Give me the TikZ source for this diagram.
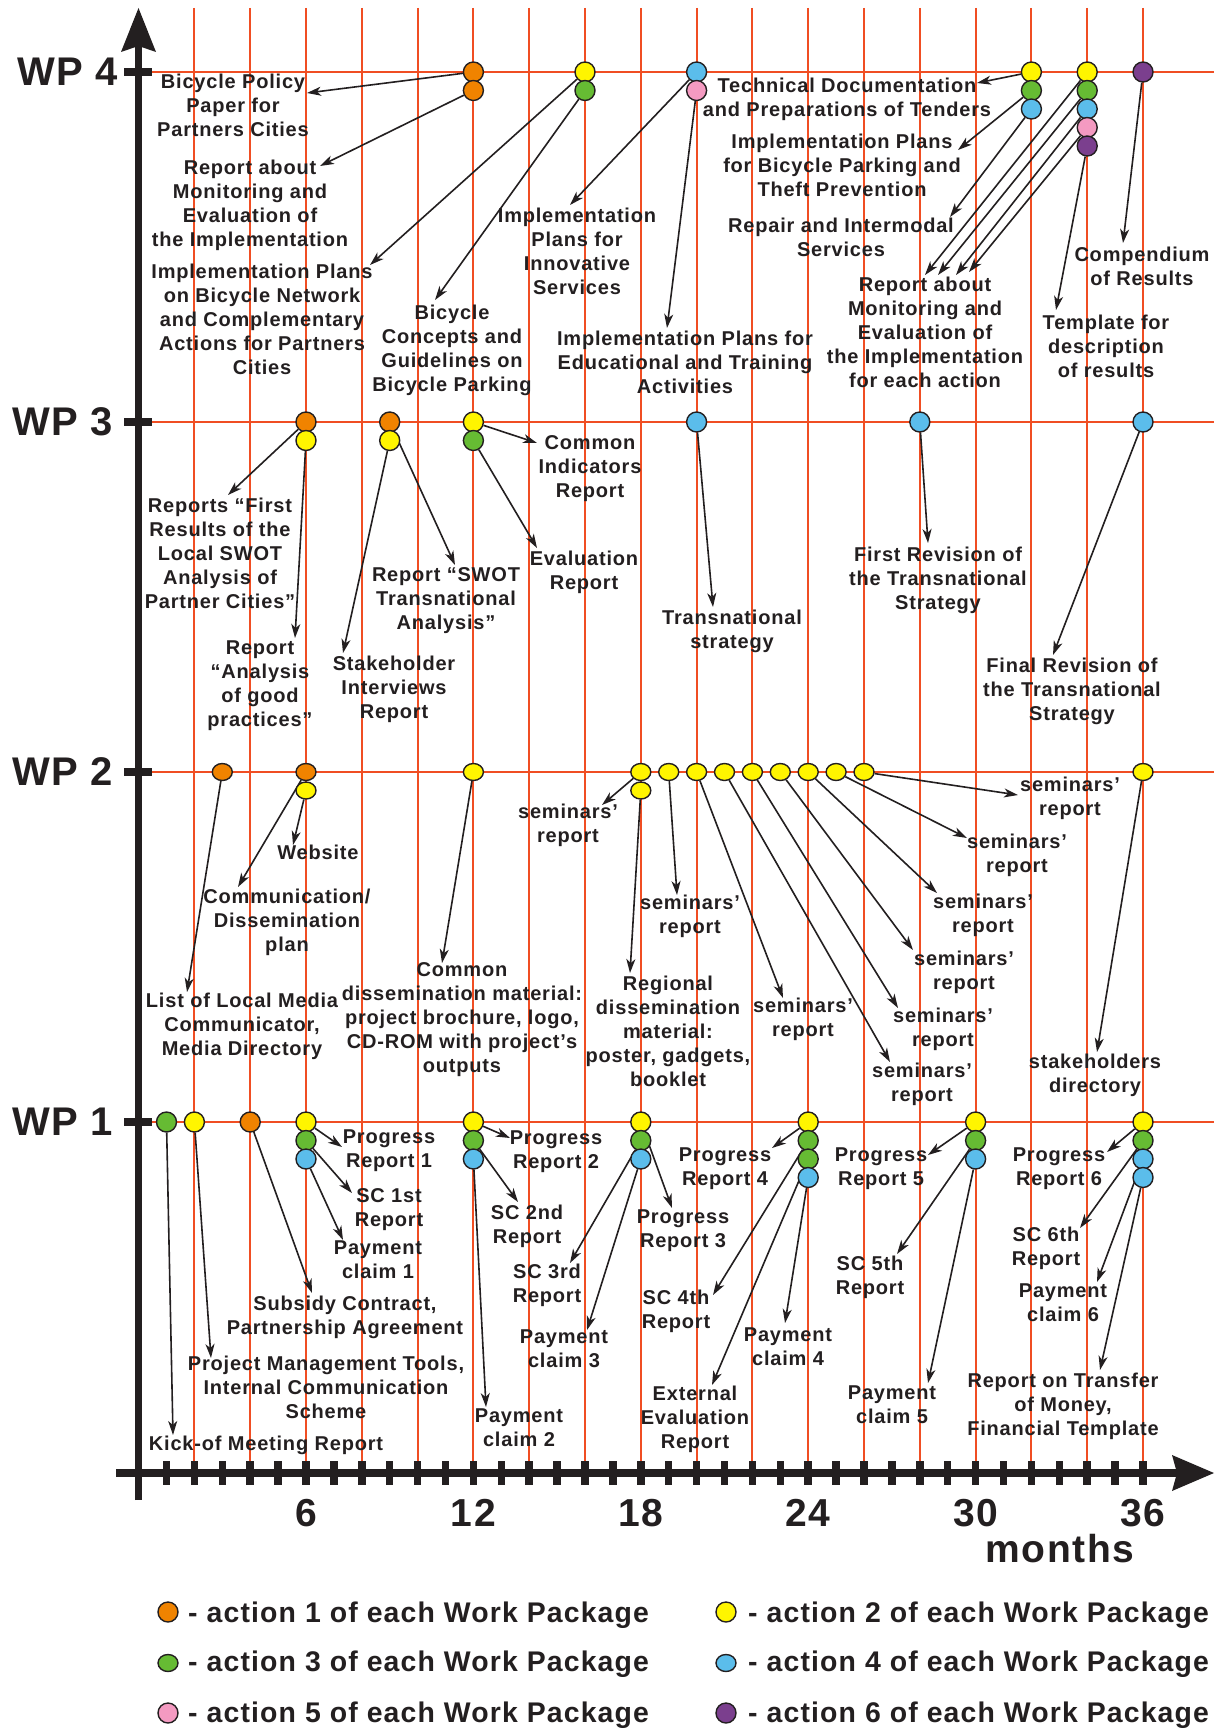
\documentclass[tikz,border=0pt]{standalone}
\usepackage{fontspec}
\setmainfont{Liberation Sans}[LetterSpace=4]
\usetikzlibrary{arrows.meta,shapes.geometric}
\definecolor{ink}{HTML}{231F20}
\definecolor{gridc}{HTML}{F04E23}
\definecolor{cO}{HTML}{F08300}
\definecolor{cY}{HTML}{FFF500}
\definecolor{cG}{HTML}{66BB33}
\definecolor{cB}{HTML}{5BBDEB}
\definecolor{cP}{HTML}{F49AC1}
\definecolor{cV}{HTML}{7B3F8E}
\pgfdeclarelayer{bg}
\pgfsetlayers{bg,main}
\newcommand\mkdot[4]{\node[dot,fill=#4] (#1) at (#2,#3) {};}
\newcommand\mkedot[4]{\node[edot,fill=#4] (#1) at (#2,#3) {};}
\newcommand\mkarr[4]{\coordinate (#2) at (#3,#4); \draw[arr] (#1) -- (#2);}
\newcommand\mklbl[4]{\node[lbl] (#1) at (#2,#3) {#4};}
\begin{document}
\begin{tikzpicture}[x=1pt,y=-1pt,
  dot/.style={circle,draw=ink,line width=1.4pt,minimum size=20pt,inner sep=0pt},
  edot/.style={ellipse,draw=ink,line width=1.4pt,minimum width=20pt,minimum height=17pt,inner sep=0pt},
  lbl/.style={font=\fontsize{20}{24}\selectfont\bfseries,text=ink,align=center,inner sep=0pt,execute at begin node=\strut,execute at end node=\strut},
  arr/.style={draw=ink,line width=1.6pt,-{Stealth[length=14pt,width=9pt,inset=4pt]}},
  gridl/.style={draw=gridc,line width=2pt},
  axisl/.style={draw=ink,line width=7.5pt},
  big/.style={font=\fontsize{40}{40}\selectfont\bfseries,text=ink,inner sep=0pt},
  leg/.style={font=\fontsize{28.4}{28.4}\selectfont\bfseries,text=ink,inner sep=0pt,anchor=base west}]
\begin{pgfonlayer}{bg}
\fill[white] (0,0) rectangle (1221,1731);
\foreach \m in {2,4,...,36} \draw[gridl] ({138.6+27.9*\m},8) -- ({138.6+27.9*\m},1462);
\foreach \y in {72,422,772,1122} \draw[gridl] (152,\y) -- (1214,\y);
\end{pgfonlayer}
\useasboundingbox (0,0) rectangle (1221,1731);
% axes
\draw[axisl] (138.5,1500) -- (138.5,44);
\fill[ink] (138.5,8) -- (156,52) -- (138.5,46) -- (121,52) -- cycle;
\draw[axisl] (116,1473) -- (1180,1473);
\fill[ink] (1214,1473) -- (1172,1455) -- (1177,1473) -- (1172,1491) -- cycle;
\foreach \m in {1,...,36} \draw[draw=ink,line width=7.5pt] ({138.6+27.9*\m},1461) -- ({138.6+27.9*\m},1485);
\foreach \y in {72,422,772,1122} \draw[draw=ink,line width=7.5pt] (124,\y) -- (152,\y);
% axis labels
\node[big,anchor=west] (wp4) at (17,72) {WP 4};
\node[big,anchor=west] (wp3) at (12,422) {WP 3};
\node[big,anchor=west] (wp2) at (12,772) {WP 2};
\node[big,anchor=west] (wp1) at (12,1122) {WP 1};
\node[big,anchor=base,font=\fontsize{39}{39}\selectfont\bfseries] (m6) at (306,1526) {6};
\node[big,anchor=base,font=\fontsize{39}{39}\selectfont\bfseries] (m12) at (473.4,1526) {12};
\node[big,anchor=base,font=\fontsize{39}{39}\selectfont\bfseries] (m18) at (640.8,1526) {18};
\node[big,anchor=base,font=\fontsize{39}{39}\selectfont\bfseries] (m24) at (808.2,1526) {24};
\node[big,anchor=base,font=\fontsize{39}{39}\selectfont\bfseries] (m30) at (975.6,1526) {30};
\node[big,anchor=base,font=\fontsize{39}{39}\selectfont\bfseries] (m36) at (1143,1526) {36};
\node[big,anchor=base,font=\fontsize{39}{39}\selectfont\bfseries] (months) at (1060,1562) {months};
% WP4 dots
\mkdot{a12o}{473.4}{72}{cO}
\mkdot{a12o2}{473.4}{90.5}{cO}
\mkdot{a16y}{585}{72}{cY}
\mkdot{a16g}{585}{90.5}{cG}
\mkdot{a20b}{696.6}{72}{cB}
\mkdot{a20p}{696.6}{90.5}{cP}
\mkdot{a32y}{1031.4}{72}{cY}
\mkdot{a32g}{1031.4}{90.5}{cG}
\mkdot{a32b}{1031.4}{109}{cB}
\mkdot{a34y}{1087.2}{72}{cY}
\mkdot{a34g}{1087.2}{90.5}{cG}
\mkdot{a34b}{1087.2}{109}{cB}
\mkdot{a34p}{1087.2}{127.5}{cP}
\mkdot{a34v}{1087.2}{146}{cV}
\mkdot{a36v}{1143}{72}{cV}
% WP3 dots
\mkdot{b6o}{306}{422}{cO}
\mkdot{b6y}{306}{440.5}{cY}
\mkdot{b9o}{389.7}{422}{cO}
\mkdot{b9y}{389.7}{440.5}{cY}
\mkdot{b12y}{473.4}{422}{cY}
\mkdot{b12g}{473.4}{440.5}{cG}
\mkdot{b20b}{696.6}{422}{cB}
\mkdot{b28b}{919.8}{422}{cB}
\mkdot{b36b}{1143}{422}{cB}
% WP2 dots
\mkedot{c3o}{222.3}{772}{cO}
\mkedot{c6o}{306}{772}{cO}
\mkedot{c6y}{306}{790.5}{cY}
\mkedot{c12y}{473.4}{772}{cY}
\mkedot{c18y}{640.8}{772}{cY}
\mkedot{c18y2}{640.8}{790.5}{cY}
\mkedot{c19y}{668.7}{772}{cY}
\mkedot{c20y}{696.6}{772}{cY}
\mkedot{c21y}{724.5}{772}{cY}
\mkedot{c22y}{752.4}{772}{cY}
\mkedot{c23y}{780.3}{772}{cY}
\mkedot{c24y}{808.2}{772}{cY}
\mkedot{c25y}{836.1}{772}{cY}
\mkedot{c26y}{864}{772}{cY}
\mkedot{c36y}{1143}{772}{cY}
% WP1 dots
\mkdot{d1g}{166.5}{1122}{cG}
\mkdot{d2y}{194.4}{1122}{cY}
\mkdot{d4o}{250.2}{1122}{cO}
\mkdot{d6y}{306}{1122}{cY}
\mkdot{d6g}{306}{1140.5}{cG}
\mkdot{d6b}{306}{1159}{cB}
\mkdot{d12y}{473.4}{1122}{cY}
\mkdot{d12g}{473.4}{1140.5}{cG}
\mkdot{d12b}{473.4}{1159}{cB}
\mkdot{d18y}{640.8}{1122}{cY}
\mkdot{d18g}{640.8}{1140.5}{cG}
\mkdot{d18b}{640.8}{1159}{cB}
\mkdot{d24y}{808.2}{1122}{cY}
\mkdot{d24g}{808.2}{1140.5}{cG}
\mkdot{d24g2}{808.2}{1159}{cG}
\mkdot{d24b}{808.2}{1177.5}{cB}
\mkdot{d30y}{975.6}{1122}{cY}
\mkdot{d30g}{975.6}{1140.5}{cG}
\mkdot{d30b}{975.6}{1159}{cB}
\mkdot{d36y}{1143}{1122}{cY}
\mkdot{d36g}{1143}{1140.5}{cG}
\mkdot{d36b}{1143}{1159}{cB}
\mkdot{d36b2}{1143}{1177.5}{cB}
% labels WP4
\mklbl{L1}{233}{108.5}{Bicycle Policy\\Paper for\\Partners Cities}
\mklbl{L2}{250}{206.5}{Report about\\Monitoring and\\Evaluation of\\the Implementation}
\mklbl{L3}{262}{323}{Implementation Plans\\on Bicycle Network\\and Complementary\\Actions for Partners\\Cities}
\mklbl{L4}{452}{352}{Bicycle\\Concepts and\\Guidelines on\\Bicycle Parking}
\mklbl{L5}{577}{255}{Implementation\\Plans for\\Innovative\\Services}
\mklbl{L6}{685}{365.5}{Implementation Plans for\\Educational and Training\\Activities}
\mklbl{L7}{847}{100.5}{Technical Documentation\\and Preparations of Tenders}
\mklbl{L8}{842}{169}{Implementation Plans\\for Bicycle Parking and\\Theft Prevention}
\mklbl{L9}{841}{240.5}{Repair and Intermodal\\Services}
\mklbl{L10}{925}{335.5}{Report about\\Monitoring and\\Evaluation of\\the Implementation\\for each action}
\mklbl{L11}{1106}{350}{Template for\\description\\of results}
\mklbl{L12}{1142}{270}{Compendium\\of Results}
% labels WP3
\mklbl{L13}{220}{556.5}{Reports “First\\Results of the\\Local SWOT\\Analysis of\\Partner Cities”}
\mklbl{L14}{260}{687}{Report\\“Analysis\\of good\\practices”}
\mklbl{L15}{394}{691}{Stakeholder\\Interviews\\Report}
\mklbl{L16}{446}{602}{Report “SWOT\\Transnational\\Analysis”}
\mklbl{L17}{590}{470.5}{Common\\Indicators\\Report}
\mklbl{L18}{584}{573.5}{Evaluation\\Report}
\mklbl{L19}{732}{633}{Transnational\\strategy}
\mklbl{L20}{938}{582}{First Revision of\\the Transnational\\Strategy}
\mklbl{L21}{1072}{693}{Final Revision of\\the Transnational\\Strategy}
% labels WP2
\mklbl{L22}{318}{855}{Website}
\mklbl{L23}{287}{923.5}{Communication/\\Dissemination\\plan}
\mklbl{L24}{242}{1028}{List of Local Media\\Communicator,\\Media Directory}
\mklbl{L25}{462}{1021}{Common\\dissemination material:\\project brochure, logo,\\CD-ROM with project’s\\outputs}
\mklbl{L26}{568}{827}{seminars’\\report}
\mklbl{L27}{668}{1034.5}{Regional\\dissemination\\material:\\poster, gadgets,\\booklet}
\mklbl{L28}{690}{918}{seminars’\\report}
\mklbl{L29}{803}{1020.5}{seminars’\\report}
\mklbl{L30}{922}{1085.5}{seminars’\\report}
\mklbl{L31}{943}{1031}{seminars’\\report}
\mklbl{L32}{964}{973.5}{seminars’\\report}
\mklbl{L33}{983}{916.5}{seminars’\\report}
\mklbl{L34}{1017}{856.5}{seminars’\\report}
\mklbl{L35}{1070}{800}{seminars’\\report}
\mklbl{L36}{1095}{1077}{stakeholders\\directory}
% labels WP1
\mklbl{L37}{266}{1446}{Kick-of Meeting Report}
\mklbl{L38}{326}{1391}{Project Management Tools,\\Internal Communication\\Scheme}
\mklbl{L39}{345}{1318.5}{Subsidy Contract,\\Partnership Agreement}
\mklbl{L40}{389}{1152.5}{Progress\\Report 1}
\mklbl{L41}{389}{1211.5}{SC 1st\\Report}
\mklbl{L42}{378}{1263.5}{Payment\\claim 1}
\mklbl{L43}{556}{1153}{Progress\\Report 2}
\mklbl{L44}{527}{1227.5}{SC 2nd\\Report}
\mklbl{L45}{519}{1431.5}{Payment\\claim 2}
\mklbl{L46}{547}{1287}{SC 3rd\\Report}
\mklbl{L47}{564}{1352}{Payment\\claim 3}
\mklbl{L48}{683}{1232.5}{Progress\\Report 3}
\mklbl{L49}{725}{1170}{Progress\\Report 4}
\mklbl{L50}{676}{1312.5}{SC 4th\\Report}
\mklbl{L51}{695}{1420.5}{External\\Evaluation\\Report}
\mklbl{L52}{788}{1350.5}{Payment\\claim 4}
\mklbl{L53}{881}{1170}{Progress\\Report 5}
\mklbl{L54}{870}{1278.5}{SC 5th\\Report}
\mklbl{L55}{892}{1408.5}{Payment\\claim 5}
\mklbl{L56}{1059}{1170}{Progress\\Report 6}
\mklbl{L57}{1046}{1249.5}{SC 6th\\Report}
\mklbl{L58}{1063}{1306}{Payment\\claim 6}
\mklbl{L59}{1063}{1408}{Report on Transfer\\of Money,\\Financial Template}
% arrows
\begin{pgfonlayer}{bg}
\mkarr{a12o}{t1}{307}{93}
\mkarr{a12o2}{t2}{320}{166}
\mkarr{a16y}{t3}{370}{265}
\mkarr{a16g}{t4}{435}{300}
\mkarr{a20b}{t5}{570}{205}
\mkarr{a20p}{t6}{667}{328}
\mkarr{a32y}{t7}{977}{83}
\mkarr{a32g}{t8}{958}{150}
\mkarr{a32b}{t9}{950}{217}
\mkarr{a34y}{t10}{925}{275}
\mkarr{a34g}{t11}{938}{275}
\mkarr{a34b}{t12}{956}{275}
\mkarr{a34p}{t13}{969}{272}
\mkarr{a34v}{t14}{1056}{310}
\mkarr{a36v}{t15}{1123}{243}
\mkarr{b6o}{t16}{228}{495}
\mkarr{b6y}{t17}{295}{638}
\mkarr{b9y}{t18}{343}{653}
\mkarr{b9o}{t19}{455}{565}
\mkarr{b12y}{t20}{537}{443}
\mkarr{b12g}{t21}{537}{548}
\mkarr{b20b}{t22}{713}{607}
\mkarr{b28b}{t23}{928}{543}
\mkarr{b36b}{t24}{1053}{655}
\mkarr{c3o}{t25}{187}{992}
\mkarr{c6o}{t26}{238}{887}
\mkarr{c6y}{t27}{293}{845}
\mkarr{c12y}{t28}{442}{963}
\mkarr{c18y}{t29}{602}{805}
\mkarr{c18y2}{t30}{630}{973}
\mkarr{c19y}{t31}{677}{895}
\mkarr{c20y}{t32}{783}{998}
\mkarr{c21y}{t33}{890}{1062}
\mkarr{c22y}{t34}{898}{1008}
\mkarr{c23y}{t35}{913}{950}
\mkarr{c24y}{t36}{937}{893}
\mkarr{c25y}{t37}{967}{838}
\mkarr{c26y}{t38}{1018}{795}
\mkarr{c36y}{t39}{1097}{1052}
\mkarr{d1g}{t40}{173}{1435}
\mkarr{d2y}{t41}{211}{1358}
\mkarr{d4o}{t42}{312}{1293}
\mkarr{d6y}{t43}{342}{1147}
\mkarr{d6g}{t44}{352}{1193}
\mkarr{d6b}{t45}{343}{1240}
\mkarr{d12y}{t46}{510}{1138}
\mkarr{d12g}{t47}{518}{1202}
\mkarr{d12b}{t48}{486}{1407}
\mkarr{d18g}{t49}{570}{1263}
\mkarr{d18b}{t50}{587}{1330}
\mkarr{d18y}{t51}{672}{1208}
\mkarr{d24y}{t52}{772}{1148}
\mkarr{d24g}{t53}{713}{1295}
\mkarr{d24g2}{t54}{712}{1385}
\mkarr{d24b}{t55}{785}{1323}
\mkarr{d30y}{t56}{928}{1155}
\mkarr{d30g}{t57}{897}{1254}
\mkarr{d30b}{t58}{928}{1383}
\mkarr{d36y}{t59}{1107}{1152}
\mkarr{d36g}{t60}{1080}{1228}
\mkarr{d36b}{t61}{1097}{1282}
\mkarr{d36b2}{t62}{1100}{1370}
\end{pgfonlayer}
% legend
\mkdot{k1}{168}{1612}{cO}
\mkedot{k3}{168}{1663}{cG}
\mkdot{k5}{168}{1713}{cP}
\mkdot{k2}{726}{1612}{cY}
\mkedot{k4}{726}{1663}{cB}
\mkdot{k6}{726}{1713}{cV}
\node[leg] (g1) at (188,1622) {- action 1 of each Work Package};
\node[leg] (g3) at (188,1671) {- action 3 of each Work Package};
\node[leg] (g5) at (188,1722) {- action 5 of each Work Package};
\node[leg] (g2) at (748,1622) {- action 2 of each Work Package};
\node[leg] (g4) at (748,1671) {- action 4 of each Work Package};
\node[leg] (g6) at (748,1722) {- action 6 of each Work Package};
\end{tikzpicture}
\end{document}
